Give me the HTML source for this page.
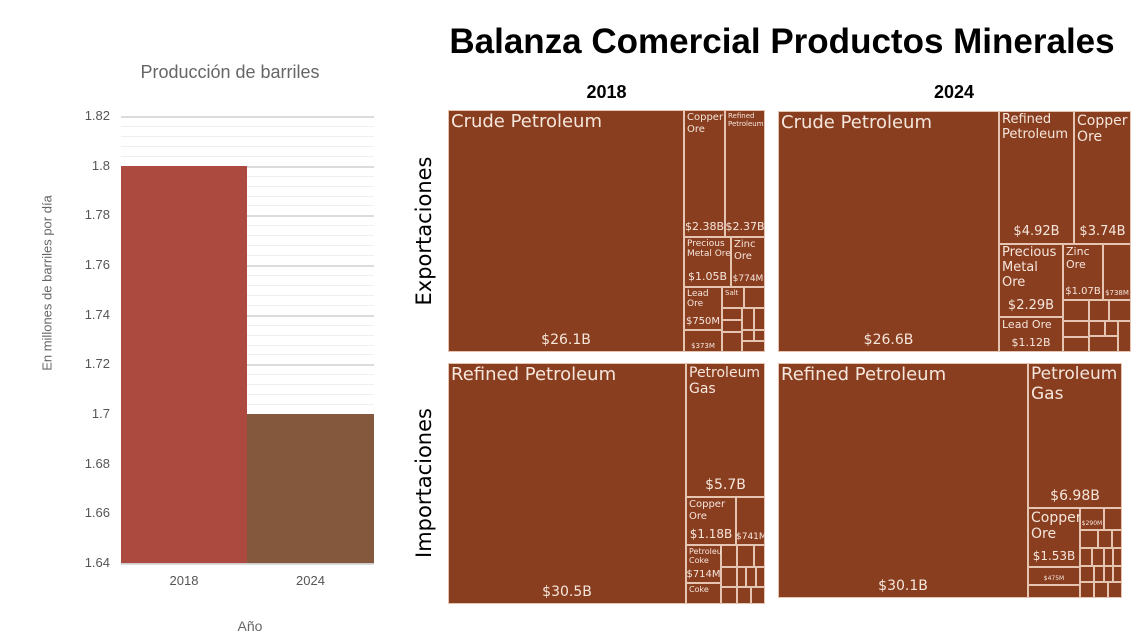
<!DOCTYPE html>
<html><head><meta charset="utf-8"><style>
body{margin:0;width:1134px;height:643px;background:#fff;position:relative;overflow:hidden;font-family:"DejaVu Sans","Liberation Sans",sans-serif}
.a{position:absolute}
.t{position:absolute;background:#8a3e20;outline:1px solid #e6c4b2;outline-offset:-1px;color:#f5e6dc;box-sizing:border-box;overflow:hidden;line-height:1.15}
.t .n{position:absolute;left:3px;top:2px}
.t .v{position:absolute;left:0;right:0;text-align:center}
.g{position:absolute;left:121px;width:253px;height:1px;background:#efefef}
.G{background:#dcdcdc;height:2px}
.yl{position:absolute;left:70px;width:40px;text-align:right;font-size:13px;color:#555;font-family:"Liberation Sans",sans-serif}
</style></head><body>
<div class="a" style="left:0;width:460px;top:62px;text-align:center;font-size:18px;color:#666;font-family:'Liberation Sans',sans-serif">Producción de barriles</div>
<div id="grid"></div>
<script>
var h='';for(var i=0;i<=45;i++){var y=116+i*447/45;h+='<div class="g'+(i%5==0?' G':'')+'" style="top:'+y.toFixed(1)+'px"></div>';}
var L=['1.82','1.8','1.78','1.76','1.74','1.72','1.7','1.68','1.66','1.64'];for(var j=0;j<10;j++){h+='<div class="yl" style="top:'+(116+j*49.67-8).toFixed(1)+'px">'+L[j]+'</div>';}
document.getElementById('grid').innerHTML=h;
</script>
<div class="a" style="left:121px;top:166px;width:126px;height:397px;background:#ad4a3f"></div>
<div class="a" style="left:247px;top:414px;width:127px;height:149px;background:#83583c"></div>
<div class="a" style="left:121px;top:563px;width:253px;height:1px;background:#ccc"></div>
<div class="a" style="left:121px;width:126px;top:573px;text-align:center;font-size:13px;color:#555;font-family:'Liberation Sans',sans-serif">2018</div>
<div class="a" style="left:247px;width:127px;top:573px;text-align:center;font-size:13px;color:#555;font-family:'Liberation Sans',sans-serif">2024</div>
<div class="a" style="left:0;width:500px;top:618px;text-align:center;font-size:14px;color:#666;font-family:'Liberation Sans',sans-serif">Año</div>
<div class="a" style="left:47px;top:283px;width:0;height:0"><div style="position:absolute;transform:translate(-50%,-50%) rotate(-90deg);white-space:nowrap;font-size:13px;color:#666;font-family:'Liberation Sans',sans-serif">En millones de barriles por día</div></div>

<div class="a" style="left:420px;width:724px;top:22px;text-align:center;font-size:35px;font-weight:bold;color:#000;white-space:nowrap;font-family:'Liberation Sans',sans-serif">Balanza Comercial Productos Minerales</div>
<div class="a" style="left:448px;width:317px;top:82px;text-align:center;font-size:18px;font-weight:bold;font-family:'Liberation Sans',sans-serif">2018</div>
<div class="a" style="left:777px;width:354px;top:82px;text-align:center;font-size:18px;font-weight:bold;font-family:'Liberation Sans',sans-serif">2024</div>
<div class="a" style="left:424px;top:231px"><div style="position:absolute;transform:translate(-50%,-50%) rotate(-90deg);white-space:nowrap;font-size:21px">Exportaciones</div></div>
<div class="a" style="left:424px;top:483px"><div style="position:absolute;transform:translate(-50%,-50%) rotate(-90deg);white-space:nowrap;font-size:21px">Importaciones</div></div>

<!-- 2018 exports -->
<div class="t" style="left:448px;top:110px;width:317px;height:242px"></div>
<div class="t" style="left:448px;top:110px;width:236px;height:242px"><span class="n" style="font-size:18px">Crude Petroleum</span><span class="v" style="bottom:4px;font-size:14px">$26.1B</span></div>
<div class="t" style="left:684px;top:110px;width:41px;height:127px"><span class="n" style="font-size:10px">Copper<br>Ore</span><span class="v" style="bottom:3px;font-size:11px">$2.38B</span></div>
<div class="t" style="left:725px;top:110px;width:40px;height:127px"><span class="n" style="font-size:7px">Refined<br>Petroleum</span><span class="v" style="bottom:3px;font-size:11px">$2.37B</span></div>
<div class="t" style="left:684px;top:237px;width:47px;height:50px"><span class="n" style="font-size:9px">Precious<br>Metal Ore</span><span class="v" style="bottom:3px;font-size:11px">$1.05B</span></div>
<div class="t" style="left:731px;top:237px;width:34px;height:50px"><span class="n" style="font-size:10px">Zinc<br>Ore</span><span class="v" style="bottom:3px;font-size:9px">$774M</span></div>
<div class="t" style="left:684px;top:287px;width:38px;height:43px"><span class="n" style="font-size:9px">Lead<br>Ore</span><span class="v" style="bottom:3px;font-size:10px">$750M</span></div>
<div class="t" style="left:684px;top:330px;width:38px;height:22px"><span class="v" style="bottom:2px;font-size:7px">$373M</span></div>
<div class="t" style="left:722px;top:287px;width:22px;height:21px"><span class="n" style="font-size:7px">Salt</span></div>
<div class="t" style="left:744px;top:287px;width:21px;height:21px"></div>
<div class="t" style="left:722px;top:308px;width:20px;height:12px"></div>
<div class="t" style="left:722px;top:320px;width:20px;height:12px"></div>
<div class="t" style="left:742px;top:308px;width:12px;height:22px"></div>
<div class="t" style="left:754px;top:308px;width:11px;height:22px"></div>
<div class="t" style="left:722px;top:332px;width:20px;height:20px"></div>
<div class="t" style="left:742px;top:330px;width:12px;height:11px"></div>
<div class="t" style="left:754px;top:330px;width:11px;height:11px"></div>
<div class="t" style="left:742px;top:341px;width:23px;height:11px"></div>

<!-- 2024 exports -->
<div class="t" style="left:778px;top:111px;width:353px;height:241px"></div>
<div class="t" style="left:778px;top:111px;width:221px;height:241px"><span class="n" style="font-size:18px">Crude Petroleum</span><span class="v" style="bottom:4px;font-size:14px">$26.6B</span></div>
<div class="t" style="left:999px;top:111px;width:75px;height:133px"><span class="n" style="font-size:13px">Refined<br>Petroleum</span><span class="v" style="bottom:4px;font-size:13px">$4.92B</span></div>
<div class="t" style="left:1074px;top:111px;width:57px;height:133px"><span class="n" style="font-size:14px">Copper<br>Ore</span><span class="v" style="bottom:4px;font-size:13px">$3.74B</span></div>
<div class="t" style="left:999px;top:244px;width:64px;height:73px"><span class="n" style="font-size:13px">Precious<br>Metal<br>Ore</span><span class="v" style="bottom:3px;font-size:13px">$2.29B</span></div>
<div class="t" style="left:999px;top:317px;width:64px;height:35px"><span class="n" style="font-size:11px">Lead Ore</span><span class="v" style="bottom:2px;font-size:11px">$1.12B</span></div>
<div class="t" style="left:1063px;top:244px;width:40px;height:56px"><span class="n" style="font-size:11px">Zinc<br>Ore</span><span class="v" style="bottom:3px;font-size:10px">$1.07B</span></div>
<div class="t" style="left:1103px;top:244px;width:28px;height:56px"><span class="v" style="bottom:3px;font-size:7px">$738M</span></div>
<div class="t" style="left:1063px;top:300px;width:26px;height:21px"></div>
<div class="t" style="left:1089px;top:300px;width:20px;height:21px"></div>
<div class="t" style="left:1109px;top:300px;width:22px;height:21px"></div>
<div class="t" style="left:1063px;top:321px;width:26px;height:16px"></div>
<div class="t" style="left:1063px;top:337px;width:26px;height:15px"></div>
<div class="t" style="left:1089px;top:321px;width:16px;height:15px"></div>
<div class="t" style="left:1105px;top:321px;width:13px;height:15px"></div>
<div class="t" style="left:1118px;top:321px;width:13px;height:31px"></div>
<div class="t" style="left:1089px;top:336px;width:29px;height:16px"></div>

<!-- 2018 imports -->
<div class="t" style="left:448px;top:363px;width:317px;height:241px"></div>
<div class="t" style="left:448px;top:363px;width:238px;height:241px"><span class="n" style="font-size:18px">Refined Petroleum</span><span class="v" style="bottom:4px;font-size:14px">$30.5B</span></div>
<div class="t" style="left:686px;top:363px;width:79px;height:134px"><span class="n" style="font-size:14px">Petroleum<br>Gas</span><span class="v" style="bottom:4px;font-size:14px">$5.7B</span></div>
<div class="t" style="left:686px;top:497px;width:50px;height:48px"><span class="n" style="font-size:10px">Copper<br>Ore</span><span class="v" style="bottom:3px;font-size:12px">$1.18B</span></div>
<div class="t" style="left:736px;top:497px;width:29px;height:48px"><span class="v" style="bottom:3px;font-size:9px">$741M</span></div>
<div class="t" style="left:686px;top:545px;width:35px;height:38px"><span class="n" style="font-size:8px">Petroleum<br>Coke</span><span class="v" style="bottom:3px;font-size:10px">$714M</span></div>
<div class="t" style="left:686px;top:583px;width:35px;height:21px"><span class="n" style="font-size:8px">Coke</span></div>
<div class="t" style="left:721px;top:545px;width:16px;height:22px"></div>
<div class="t" style="left:737px;top:545px;width:17px;height:22px"></div>
<div class="t" style="left:754px;top:545px;width:11px;height:22px"></div>
<div class="t" style="left:721px;top:567px;width:16px;height:20px"></div>
<div class="t" style="left:721px;top:587px;width:16px;height:17px"></div>
<div class="t" style="left:737px;top:567px;width:9px;height:20px"></div>
<div class="t" style="left:746px;top:567px;width:10px;height:20px"></div>
<div class="t" style="left:756px;top:567px;width:9px;height:20px"></div>
<div class="t" style="left:737px;top:587px;width:14px;height:17px"></div>
<div class="t" style="left:751px;top:587px;width:14px;height:17px"></div>

<!-- 2024 imports -->
<div class="t" style="left:778px;top:363px;width:344px;height:235px"></div>
<div class="t" style="left:778px;top:363px;width:250px;height:235px"><span class="n" style="font-size:18px">Refined Petroleum</span><span class="v" style="bottom:4px;font-size:14px">$30.1B</span></div>
<div class="t" style="left:1028px;top:363px;width:94px;height:145px"><span class="n" style="font-size:17px">Petroleum<br>Gas</span><span class="v" style="bottom:4px;font-size:14px">$6.98B</span></div>
<div class="t" style="left:1028px;top:508px;width:52px;height:59px"><span class="n" style="font-size:14px">Copper<br>Ore</span><span class="v" style="bottom:3px;font-size:12px">$1.53B</span></div>
<div class="t" style="left:1028px;top:567px;width:52px;height:18px"><span class="v" style="bottom:2px;font-size:6px">$475M</span></div>
<div class="t" style="left:1028px;top:585px;width:52px;height:13px"></div>
<div class="t" style="left:1080px;top:508px;width:24px;height:22px"><span class="v" style="bottom:2px;font-size:6px">$290M</span></div>
<div class="t" style="left:1104px;top:508px;width:18px;height:22px"></div>
<div class="t" style="left:1080px;top:530px;width:18px;height:18px"></div>
<div class="t" style="left:1098px;top:530px;width:14px;height:18px"></div>
<div class="t" style="left:1112px;top:530px;width:10px;height:18px"></div>
<div class="t" style="left:1080px;top:548px;width:12px;height:18px"></div>
<div class="t" style="left:1092px;top:548px;width:12px;height:18px"></div>
<div class="t" style="left:1104px;top:548px;width:9px;height:18px"></div>
<div class="t" style="left:1113px;top:548px;width:9px;height:18px"></div>
<div class="t" style="left:1080px;top:566px;width:14px;height:16px"></div>
<div class="t" style="left:1080px;top:582px;width:14px;height:16px"></div>
<div class="t" style="left:1094px;top:566px;width:10px;height:16px"></div>
<div class="t" style="left:1104px;top:566px;width:9px;height:16px"></div>
<div class="t" style="left:1113px;top:566px;width:9px;height:16px"></div>
<div class="t" style="left:1094px;top:582px;width:14px;height:16px"></div>
<div class="t" style="left:1108px;top:582px;width:14px;height:16px"></div>
</body></html>
